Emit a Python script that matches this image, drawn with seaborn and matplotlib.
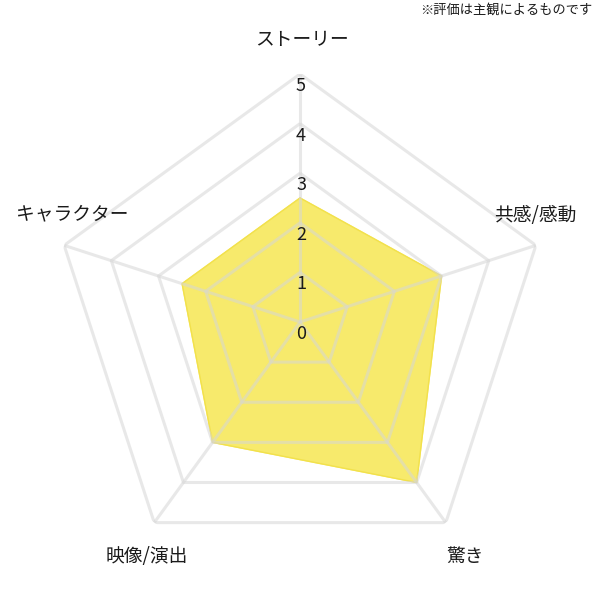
import numpy as np
import matplotlib
matplotlib.use("Agg")
import matplotlib.pyplot as plt
import seaborn as sns

# データ（評価は0〜5）
categories = ["ストーリー", "共感/感動", "驚き", "映像/演出", "キャラクター"]
scores = [2.5, 3, 4, 3, 2.5]
levels = [0, 1, 2, 3, 4, 5]
note = "※評価は主観によるものです"

# ラベル位置の微調整（ピクセル）
label_offsets = [(2, 34), (-1, 30), (19, -34), (-8, -34), (8, 32)]

sns.set_theme(style="white")
plt.rcParams['font.family'] = ['Noto Sans CJK JP', 'DejaVu Sans']

fig = plt.figure(figsize=(6, 6), dpi=100)
ax = fig.add_axes([0.0867, 0.05, 0.8267, 0.8267], projection='polar')
ax.set_theta_zero_location('N')
ax.set_theta_direction(-1)
ax.set_ylim(0, max(levels))
ax.axis('off')

angles = np.linspace(0, 2 * np.pi, len(categories), endpoint=False)
closed = np.append(angles, angles[0])
vals = np.append(scores, scores[0])

# 塗りつぶし
ax.fill(closed, vals, color='#f7ea6c', zorder=1)
ax.plot(closed, vals, color='#f2e14c', lw=1, zorder=1.5)

# 五角形のグリッド
grid_kw = dict(color='#d6d6d6', alpha=0.55, lw=2.2, zorder=2, solid_capstyle='butt')
for lv in levels[1:]:
    ax.plot(closed, [lv] * len(closed), **grid_kw)
for a in angles:
    ax.plot([a, a], [0, max(levels)], **grid_kw)

# 目盛りラベル
for lv in levels:
    ax.annotate(str(lv), xy=(0, lv), xytext=(1, -12), textcoords='offset pixels',
                ha='center', va='center', fontsize=13, color='#1a1a1a', zorder=3)

# 項目ラベル
for a, cat, off in zip(angles, categories, label_offsets):
    ax.annotate(cat, xy=(a, max(levels)), xytext=off, textcoords='offset pixels',
                ha='center', va='center', fontsize=13.5, color='#1a1a1a',
                annotation_clip=False)

fig.text(0.988, 0.983, note, ha='right', va='center', fontsize=9.5, color='#1a1a1a')

fig.savefig('out.png', dpi=100)
